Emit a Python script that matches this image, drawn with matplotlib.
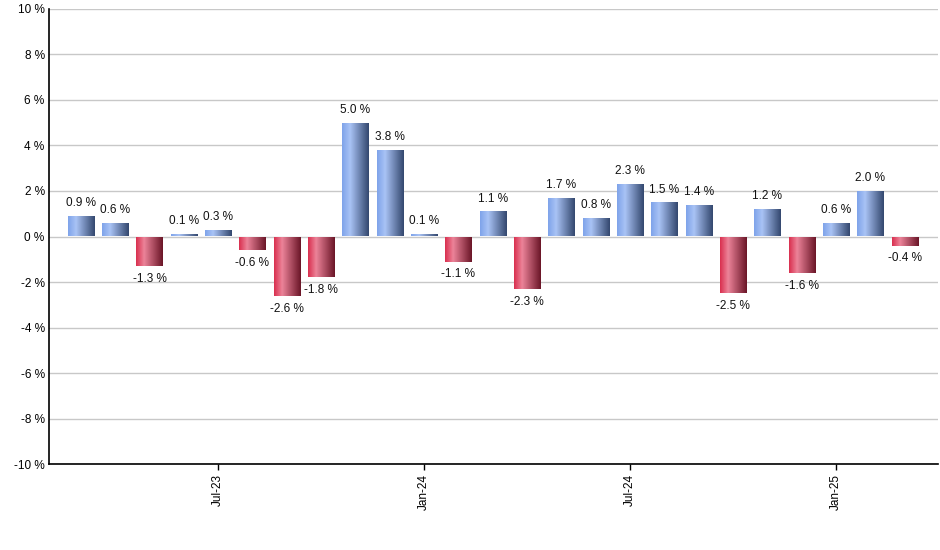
import numpy as np
import matplotlib.pyplot as plt
from matplotlib.colors import LinearSegmentedColormap

months = ['Mar-23', 'Apr-23', 'May-23', 'Jun-23', 'Jul-23', 'Aug-23', 'Sep-23', 'Oct-23',
          'Nov-23', 'Dec-23', 'Jan-24', 'Feb-24', 'Mar-24', 'Apr-24', 'May-24', 'Jun-24',
          'Jul-24', 'Aug-24', 'Sep-24', 'Oct-24', 'Nov-24', 'Dec-24', 'Jan-25', 'Feb-25', 'Mar-25']
returns = [0.9, 0.6, -1.3, 0.1, 0.3, -0.6, -2.6, -1.8, 5.0, 3.8, 0.1, -1.1, 1.1, -2.3,
           1.7, 0.8, 2.3, 1.5, 1.4, -2.5, 1.2, -1.6, 0.6, 2.0, -0.4]
tick_months = ['Jul-23', 'Jan-24', 'Jul-24', 'Jan-25']
y_ticks = [-10, -8, -6, -4, -2, 0, 2, 4, 6, 8, 10]

plt.rcParams['font.family'] = ['Liberation Sans', 'DejaVu Sans']

blue_cm = LinearSegmentedColormap.from_list('b', [(0, '#7fa3ea'), (0.3, '#a9c3f5'), (1, '#34486f')])
red_cm = LinearSegmentedColormap.from_list('r', [(0, '#d9304f'), (0.3, '#ec8399'), (1, '#6b1628')])
grad = np.linspace(0, 1, 64).reshape(1, -1)

fig = plt.figure(figsize=(9.4, 5.5), dpi=100)
ax = fig.add_axes([0.052, 0.156, 0.946, 0.828])

x = np.arange(len(months))
bars = ax.bar(x, returns, width=0.76, color='none', edgecolor='none', zorder=3)
for b, v in zip(bars, returns):
    x0, y0 = b.get_x(), b.get_y()
    w, h = b.get_width(), b.get_height()
    im = ax.imshow(grad, cmap=blue_cm if v >= 0 else red_cm, aspect='auto',
                   extent=(x0, x0 + w, y0, y0 + h), zorder=3, interpolation='bilinear')
    im.set_clip_path(b)
    if v >= 0:
        ax.text(x0 + w / 2, v + 0.3, f'{v:.1f} %', ha='center', va='bottom', fontsize=8.5, color='#111111')
    else:
        ax.text(x0 + w / 2, v - 0.3, f'{v:.1f} %', ha='center', va='top', fontsize=8.5, color='#111111')

ax.set_xlim(-0.93, 24.97)
ax.set_ylim(-10, 10)
ax.set_yticks(y_ticks)
ax.set_yticklabels([f'{t} %' for t in y_ticks], fontsize=8.5)
ax.set_xticks([months.index(m) for m in tick_months])
ax.set_xticklabels(tick_months, rotation=90, fontsize=8.5)
ax.tick_params(axis='y', length=0, pad=3)
ax.tick_params(axis='x', length=4, width=1, pad=3)
ax.grid(axis='y', color='#c8c8c8', linewidth=1, zorder=0)
ax.set_axisbelow(True)
for s in ['top', 'right']:
    ax.spines[s].set_visible(False)
for s in ['left', 'bottom']:
    ax.spines[s].set_linewidth(1.2)
    ax.spines[s].set_zorder(5)

fig.savefig('out.png', dpi=100)
